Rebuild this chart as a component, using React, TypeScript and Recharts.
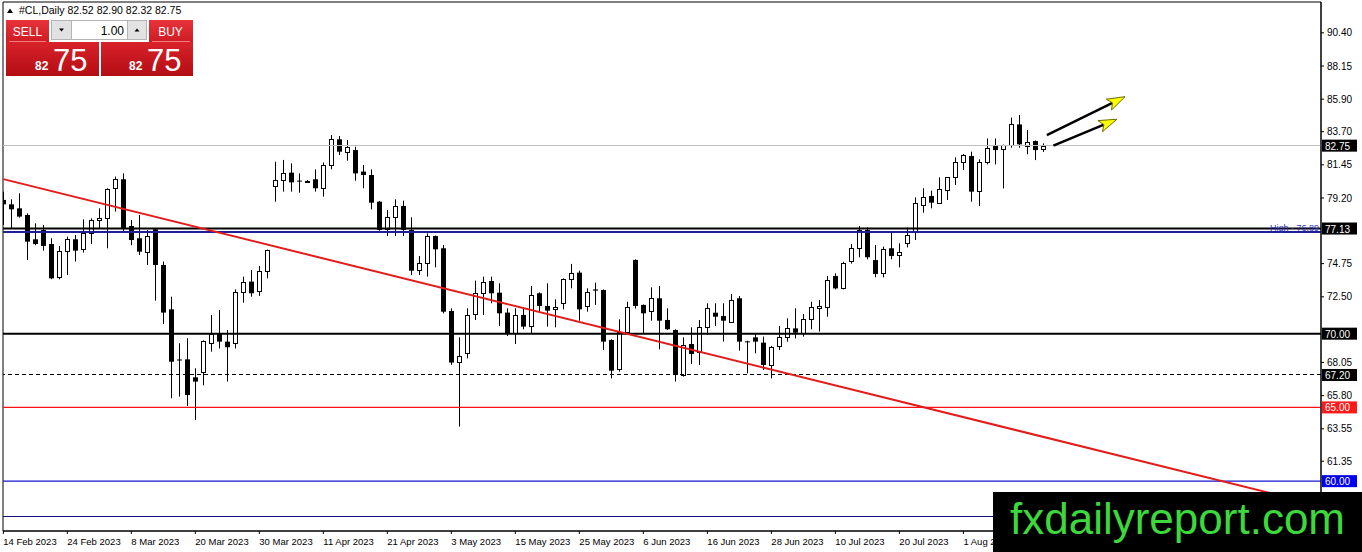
import React from 'react';
import { ComposedChart, Bar, XAxis, YAxis, ReferenceLine, ReferenceArea } from 'recharts';

// daily OHLC (bar index 0 = 14 Feb 2023)
const opens = [
  79.07, 78.77, 78.5, 78.05, 76.4, 77.03, 76.08, 73.82, 75.61, 76.4,
  75.72, 76.81, 77.71, 77.82, 79.86, 80.47, 77.3, 76.47, 75.56, 77.08,
  74.66, 71.65, 68.25, 68.26, 67.04, 67.42, 69.35, 69.98, 69.46, 69.35,
  72.8, 73.53, 72.92, 74.27, 80.04, 80.42, 80.92, 80.38, 80.38, 80.47,
  79.86, 81.44, 83.18, 82.34, 82.45, 80.99, 80.76, 78.95, 77.08, 77.89,
  78.66, 77.03, 74.32, 74.82, 76.62, 75.79, 71.54, 68.1, 68.67, 71.31,
  72.78, 73.57, 72.78, 71.43, 70.02, 71.27, 70.52, 72.74, 71.88, 71.65,
  72.06, 73.69, 74.14, 71.88, 73.0, 72.96, 69.57, 67.58, 70.14, 75.0,
  71.95, 71.56, 72.4, 70.93, 70.25, 67.2, 69.3, 68.78, 70.48, 71.42,
  71.2, 70.81, 72.4, 69.48, 69.75, 69.39, 67.88, 69.17, 69.75, 70.36,
  70.02, 70.97, 71.72, 71.79, 73.91, 73.07, 74.9, 75.79, 77.03, 74.99,
  74.09, 75.79, 75.34, 76.17, 76.98, 78.72, 79.34, 78.84, 79.74, 80.6,
  81.66, 82.05, 79.7, 81.66, 82.79, 82.52, 82.79, 84.19, 82.75, 83.06,
  82.52,
];
const highs = [
  79.63, 79.11, 79.52, 78.16, 77.48, 77.37, 76.47, 75.95, 76.58, 76.69,
  77.75, 77.82, 78.5, 79.86, 80.65, 80.87, 77.71, 78.05, 77.03, 77.14,
  74.89, 72.51, 69.35, 69.69, 67.65, 69.55, 71.27, 71.61, 70.25, 73.0,
  73.87, 74.32, 74.59, 75.7, 81.66, 81.78, 81.55, 80.87, 80.42, 81.14,
  81.6, 83.47, 83.4, 83.13, 82.68, 81.44, 81.14, 79.0, 78.39, 79.11,
  79.02, 77.89, 75.27, 76.8, 76.66, 76.01, 71.72, 69.75, 71.72, 73.6,
  73.87, 73.87, 73.42, 71.72, 71.72, 71.72, 73.23, 72.8, 73.42, 72.33,
  73.75, 74.73, 74.27, 73.08, 73.46, 73.0, 69.62, 70.97, 72.17, 75.04,
  71.98, 73.14, 73.23, 71.72, 70.3, 69.75, 70.43, 70.93, 72.06, 72.06,
  72.06, 72.69, 72.55, 69.52, 70.02, 69.8, 69.17, 70.52, 71.04, 71.72,
  71.33, 72.17, 72.28, 73.91, 74.09, 74.88, 76.08, 77.3, 77.21, 76.01,
  75.9, 76.85, 76.13, 77.21, 79.24, 79.86, 79.7, 80.6, 80.62, 81.96,
  82.18, 82.34, 81.82, 83.24, 83.24, 82.82, 84.65, 84.83, 83.81, 83.1,
  82.9,
];
const lows = [
  77.37, 77.14, 77.87, 75.0, 76.0, 75.63, 73.69, 73.69, 73.98, 74.89,
  75.5, 76.08, 77.14, 75.79, 78.28, 76.92, 76.0, 75.34, 74.66, 72.24,
  70.66, 65.62, 65.73, 65.1, 64.15, 66.5, 68.78, 69.0, 66.75, 69.0,
  72.1, 72.51, 72.56, 73.75, 78.95, 79.63, 79.63, 79.56, 80.34, 79.63,
  79.29, 81.14, 82.11, 81.73, 80.37, 79.86, 78.43, 76.98, 76.62, 76.62,
  76.62, 73.98, 73.98, 73.87, 74.5, 71.38, 67.88, 63.7, 68.33, 70.93,
  71.27, 72.06, 70.52, 69.84, 69.3, 70.3, 70.02, 71.49, 70.48, 70.43,
  71.65, 73.08, 70.88, 71.49, 71.95, 68.89, 66.97, 67.42, 70.02, 71.7,
  70.02, 70.88, 68.94, 70.25, 66.75, 67.09, 67.94, 67.88, 69.91, 70.52,
  69.46, 70.75, 68.85, 67.31, 68.67, 67.54, 66.97, 68.89, 69.46, 69.68,
  69.8, 70.3, 70.14, 71.15, 73.0, 73.0, 74.75, 75.18, 75.04, 73.82,
  73.82, 75.04, 74.5, 75.85, 76.35, 78.2, 78.5, 78.79, 79.06, 80.08,
  81.1, 78.95, 78.66, 81.48, 81.48, 79.85, 82.61, 82.61, 82.16, 81.77,
  82.32,
];
const closes = [
  78.77, 78.43, 77.94, 76.24, 76.08, 75.95, 73.75, 75.61, 76.4, 75.63,
  76.85, 77.71, 77.82, 79.79, 80.47, 77.14, 76.35, 75.56, 76.63, 74.66,
  71.43, 68.1, 68.2, 65.84, 66.75, 69.5, 69.98, 69.46, 69.08, 72.8,
  73.53, 72.74, 74.27, 75.67, 80.42, 80.92, 80.26, 80.36, 80.38, 79.86,
  81.44, 83.18, 82.34, 82.63, 80.87, 80.76, 78.88, 77.03, 77.89, 78.66,
  77.03, 74.27, 74.77, 76.62, 75.72, 71.49, 68.04, 68.51, 71.27, 72.74,
  73.48, 72.74, 71.38, 70.02, 71.27, 70.48, 72.62, 71.88, 71.56, 71.79,
  73.69, 74.14, 71.65, 72.85, 72.92, 69.46, 67.49, 70.14, 71.79, 71.88,
  71.38, 72.4, 70.88, 70.3, 67.2, 69.23, 68.62, 70.48, 71.72, 71.15,
  70.88, 72.28, 69.46, 69.46, 69.46, 67.88, 69.07, 69.75, 70.36, 70.07,
  70.97, 71.79, 71.88, 73.64, 73.07, 74.77, 75.79, 77.03, 75.18, 74.05,
  75.72, 75.27, 75.56, 76.69, 78.84, 79.24, 78.88, 79.79, 80.6, 81.66,
  82.12, 79.63, 81.66, 82.57, 82.45, 82.79, 84.19, 82.84, 82.97, 82.45,
  82.75,
];

// date labels, one every 8 bars
const tickLabels = [
  '14 Feb 2023', '24 Feb 2023', '8 Mar 2023', '20 Mar 2023', '30 Mar 2023', '11 Apr 2023',
  '21 Apr 2023', '3 May 2023', '15 May 2023', '25 May 2023', '6 Jun 2023', '16 Jun 2023',
  '28 Jun 2023', '10 Jul 2023', '20 Jul 2023', '1 Aug 2023',
];
const tickStep = 8;
const priceTicks = [61.35, 63.55, 65.8, 68.05, 72.5, 74.75, 79.2, 81.45, 83.7, 85.9, 88.15, 90.4];

// levels drawn on the chart
const lastPrice = 82.75;
const resistance = 77.13;
const recentHigh = 76.89;
const level70 = 70;
const level672 = 67.2;
const level65 = 65;
const level60 = 60;
const lowerLine = 57.57;

// trend line and the two arrows, in (bar index, price)
const trendLine = [{ x: 0, y: 80.48 }, { x: 164.5, y: 58.36 }];
const arrowA = [{ x: 130.43, y: 83.47 }, { x: 140.21, y: 86.07 }];
const arrowB = [{ x: 131.25, y: 82.75 }, { x: 139.18, y: 84.54 }];

const xMin = -0.04;
const xMax = 164.7;
const yMin = 56.62;
const yMax = 92.49;

const FONT = 'Liberation Sans, Arial, sans-serif';

const candles = opens.map((o, i) => ({ i, o, h: highs[i], l: lows[i], c: closes[i] }));

const Candle = (props: any) => {
  const { x, y, width, height, payload } = props;
  if (!payload) return null;
  const { o, h, l, c } = payload;
  const top = Math.min(y, y + height);
  const bot = Math.max(y, y + height);
  const k = h === l ? 0 : (bot - top) / (h - l);
  const py = (v: number) => top + (h - v) * k;
  const cx = Math.round(x + width / 2) + 0.5;
  const bTop = py(Math.max(o, c));
  const bBot = py(Math.min(o, c));
  if (c >= o) {
    const t = Math.round(bTop) + 0.5;
    const b = Math.max(Math.round(bBot) + 0.5, t + 1);
    return (
      <g>
        <line x1={cx} x2={cx} y1={top} y2={bot} stroke="#000" strokeWidth={1} />
        <rect x={cx - 2} y={t} width={4} height={b - t} fill="#fff" stroke="#000" strokeWidth={1} />
      </g>
    );
  }
  return (
    <g>
      <line x1={cx} x2={cx} y1={top} y2={bot} stroke="#000" strokeWidth={1} />
      <rect x={cx - 2.5} y={bTop} width={5} height={Math.max(bBot - bTop, 1)} fill="#000" />
    </g>
  );
};

const DateTick = (props: any) => {
  const { x, y, payload } = props;
  return (
    <text x={x} y={y + 8.5} textAnchor="start" fontSize={9.5} fontFamily={FONT} fill="#000">
      {tickLabels[Math.round(payload.value / tickStep)]}
    </text>
  );
};

const priceTag = (text: string, bg: string) => (props: any) => {
  const vb = props.viewBox;
  if (!vb) return null;
  const right = vb.x + vb.width;
  return (
    <g>
      <rect x={right + 1} y={vb.y - 6} width={35} height={12} fill={bg} />
      <text x={right + 4} y={vb.y + 4} fill="#fff" fontSize={10} fontFamily={FONT}>{text}</text>
    </g>
  );
};

const highNote = (props: any) => {
  const vb = props.viewBox;
  if (!vb) return null;
  return (
    <text x={vb.x + vb.width - 2} y={vb.y - 1} textAnchor="end" fill="#3030c0" fontSize={9} fontFamily={FONT}>
      High - 76.89
    </text>
  );
};

const Arrow = (props: any) => {
  const { x1, y1, x2, y2 } = props;
  if (x1 == null) return null;
  const a = Math.atan2(y2 - y1, x2 - x1);
  const ux = Math.cos(a);
  const uy = Math.sin(a);
  const len = 18;
  const half = 6;
  const bx = x2 - ux * len;
  const by = y2 - uy * len;
  const nx = x2 - ux * (len - 4);
  const ny = y2 - uy * (len - 4);
  const pts = [
    [x2, y2],
    [bx - uy * half, by + ux * half],
    [nx, ny],
    [bx + uy * half, by - ux * half],
  ].map((p) => p.join(',')).join(' ');
  return (
    <g>
      <line x1={x1} y1={y1} x2={nx} y2={ny} stroke="#000" strokeWidth={2.5} />
      <polygon points={pts} fill="#ffff00" stroke="#6b6b00" strokeWidth={1} />
    </g>
  );
};

const Overlay = () => (
  <svg width={1362} height={552} style={{ position: 'absolute', left: 0, top: 0, pointerEvents: 'none' }}>
    <defs>
      <linearGradient id="btnRed" x1="0" y1="0" x2="0" y2="1">
        <stop offset="0" stopColor="#e8333a" />
        <stop offset="1" stopColor="#cf1b22" />
      </linearGradient>
      <linearGradient id="boxRed" x1="0" y1="0" x2="0" y2="1">
        <stop offset="0" stopColor="#d8222a" />
        <stop offset="1" stopColor="#b40d14" />
      </linearGradient>
    </defs>
    {/* header */}
    <polygon points="7,13 13,13 10,8.5" fill="#000" />
    <text x={19} y={14} fontSize={10.5} fontFamily={FONT} fill="#000">#CL,Daily  82.52 82.90 82.32 82.75</text>
    {/* one-click trading panel */}
    <rect x={6} y={20} width={43} height={22} fill="url(#btnRed)" />
    <rect x={149} y={20} width={44} height={22} fill="url(#btnRed)" />
    <rect x={6} y={42} width={93} height={34} fill="url(#boxRed)" />
    <rect x={101} y={42} width={92} height={34} fill="url(#boxRed)" />
    <line x1={9} x2={46} y1={41.5} y2={41.5} stroke="#f07a7e" strokeWidth={1} />
    <line x1={152} x2={190} y1={41.5} y2={41.5} stroke="#f07a7e" strokeWidth={1} />
    <rect x={51.5} y={20.5} width={20} height={19} fill="#e2e2e2" stroke="#b4b4b4" />
    <rect x={71.5} y={20.5} width={56} height={19} fill="#fff" stroke="#b4b4b4" />
    <rect x={127.5} y={20.5} width={19} height={19} fill="#e2e2e2" stroke="#b4b4b4" />
    <polygon points="59,28.5 64,28.5 61.5,31.5" fill="#000" />
    <polygon points="134.5,31.5 139.5,31.5 137,28.5" fill="#000" />
    <text x={124} y={34.5} textAnchor="end" fontSize={12} fontFamily={FONT} fill="#000">1.00</text>
    <text x={27.5} y={35.5} textAnchor="middle" fontSize={12} fontFamily={FONT} fill="#fff">SELL</text>
    <text x={170.5} y={35.5} textAnchor="middle" fontSize={12} fontFamily={FONT} fill="#fff">BUY</text>
    <text x={35} y={70} fontSize={12} fontWeight={700} fontFamily={FONT} fill="#fff">82</text>
    <text x={53} y={71} fontSize={31} fontFamily={FONT} fill="#fff">75</text>
    <text x={129} y={70} fontSize={12} fontWeight={700} fontFamily={FONT} fill="#fff">82</text>
    <text x={147} y={71} fontSize={31} fontFamily={FONT} fill="#fff">75</text>
    {/* watermark */}
    <rect x={993} y={492} width={369} height={60} fill="#000" />
    <text x={1010} y={534} fontSize={44} fontFamily={FONT} fill="#3cd83c">fxdailyreport.com</text>
  </svg>
);

export default function App() {
  return (
    <div style={{ position: 'absolute', left: 0, top: 0, width: 1362, height: 552, background: '#fff' }}>
      <ComposedChart
        width={1362}
        height={552}
        data={candles}
        margin={{ top: 2, right: 0, bottom: 0, left: 3 }}
        style={{ fontFamily: FONT }}
      >
        <XAxis
          dataKey="i"
          type="number"
          domain={[xMin, xMax]}
          allowDataOverflow
          ticks={tickLabels.map((_, k) => k * tickStep)}
          interval={0}
          height={21}
          axisLine={{ stroke: '#000' }}
          tickLine={{ stroke: '#000' }}
          tickSize={3}
          tick={<DateTick />}
        />
        <YAxis
          orientation="right"
          type="number"
          domain={[yMin, yMax]}
          allowDataOverflow
          ticks={priceTicks}
          interval={0}
          width={41}
          axisLine={{ stroke: '#000' }}
          tickLine={{ stroke: '#000' }}
          tickSize={3}
          tickMargin={3}
          tick={{ fontSize: 10, fill: '#000', fontFamily: FONT }}
          tickFormatter={(v: number) => v.toFixed(2)}
        />
        <ReferenceArea x1={xMin} x2={xMax} y1={yMin} y2={yMax} fill="none" stroke="#000" ifOverflow="visible" />
        <Bar dataKey={(d: any) => [d.l, d.h]} barSize={6} shape={<Candle />} isAnimationActive={false} />
        <ReferenceLine y={lastPrice} stroke="#c0c0c0" strokeWidth={1} shapeRendering="crispEdges" label={priceTag('82.75', '#000')} />
        <ReferenceLine y={resistance} stroke="#000" strokeWidth={2} label={priceTag('77.13', '#000')} />
        <ReferenceLine y={recentHigh} stroke="#1e1e96" strokeWidth={2} label={highNote} />
        <ReferenceLine y={level70} stroke="#000" strokeWidth={2} label={priceTag('70.00', '#000')} />
        <ReferenceLine y={level672} stroke="#000" strokeWidth={1} strokeDasharray="4 3" shapeRendering="crispEdges" label={priceTag('67.20', '#000')} />
        <ReferenceLine y={level65} stroke="#ff1010" strokeWidth={1.2} label={priceTag('65.00', '#ff1a1a')} />
        <ReferenceLine y={level60} stroke="#1414d0" strokeWidth={1.2} label={priceTag('60.00', '#0000f0')} />
        <ReferenceLine y={lowerLine} stroke="#101080" strokeWidth={1} shapeRendering="crispEdges" />
        <ReferenceLine segment={trendLine} stroke="#e31b1b" strokeWidth={2} />
        <ReferenceLine segment={arrowA} shape={<Arrow />} />
        <ReferenceLine segment={arrowB} shape={<Arrow />} />
      </ComposedChart>
      <Overlay />
    </div>
  );
}
